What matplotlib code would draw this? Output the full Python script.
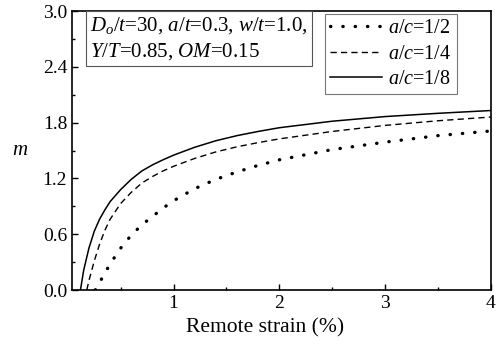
import numpy as np
import matplotlib
matplotlib.use("Agg")
import matplotlib.pyplot as plt
from matplotlib.ticker import MultipleLocator

plt.rcParams['font.family'] = 'Liberation Serif'
plt.rcParams['mathtext.fontset'] = 'custom'
plt.rcParams['mathtext.rm'] = 'Liberation Serif'
plt.rcParams['mathtext.it'] = 'Liberation Serif:italic'

## DATA
# a/c = 1/8 (solid)
strain_18 = [0.12, 0.15, 0.2, 0.25, 0.3, 0.35, 0.4, 0.5, 0.6, 0.7, 0.8, 0.9, 1.0,
             1.2, 1.4, 1.6, 1.8, 2.0, 2.5, 3.0, 3.5, 4.0]
m_18 = [0.0, 0.21, 0.45, 0.63, 0.76, 0.86, 0.95, 1.08, 1.19, 1.28, 1.345, 1.40, 1.45,
        1.535, 1.605, 1.66, 1.705, 1.745, 1.815, 1.865, 1.90, 1.93]

# a/c = 1/4 (dashed)
strain_14 = [0.18, 0.2, 0.25, 0.3, 0.35, 0.4, 0.5, 0.6, 0.7, 0.8, 0.9, 1.0,
             1.2, 1.4, 1.6, 1.8, 2.0, 2.5, 3.0, 3.5, 4.0]
m_14 = [0.0, 0.10, 0.31, 0.49, 0.64, 0.76, 0.93, 1.05, 1.15, 1.22, 1.28, 1.33,
        1.415, 1.485, 1.54, 1.585, 1.625, 1.705, 1.77, 1.82, 1.86]

# a/c = 1/2 (dotted)
strain_12 = [0.26, 0.3, 0.35, 0.4, 0.5, 0.6, 0.7, 0.8, 0.9, 1.0,
             1.2, 1.4, 1.6, 1.8, 2.0, 2.5, 3.0, 3.5, 4.0]
m_12 = [0.0, 0.08, 0.18, 0.28, 0.45, 0.59, 0.70, 0.79, 0.88, 0.96,
        1.09, 1.19, 1.27, 1.34, 1.40, 1.51, 1.59, 1.66, 1.71]

labels = ['$a/c$=1/2', '$a/c$=1/4', '$a/c$=1/8']
info_text = '$D_o/t$=30, $a/t$=0.3, $w/t$=1.0,\n$Y/T$=0.85, $OM$=0.15'

#%%
fig = plt.figure(figsize=(5.01, 3.45), dpi=100)
ax = fig.add_axes([0.1437, 0.1594, 0.8363, 0.8087])

ax.plot(strain_12, m_12, color='k', lw=2.4, linestyle=(0, (0.1, 3.6)),
        dash_capstyle='round', label=labels[0])
ax.plot(strain_14, m_14, color='k', lw=1.0, linestyle=(0, (4.5, 3)),
        label=labels[1])
ax.plot(strain_18, m_18, color='k', lw=1.1, linestyle='-', label=labels[2])

ax.set_xlim(0.04, 4)
ax.set_ylim(0, 3.0)
ax.xaxis.set_major_locator(MultipleLocator(1))
ax.xaxis.set_minor_locator(MultipleLocator(0.5))
ax.yaxis.set_major_locator(MultipleLocator(0.6))
ax.yaxis.set_minor_locator(MultipleLocator(0.3))
ax.tick_params(which='both', direction='in', top=False, right=False,
               labelsize=14, width=1)
ax.tick_params(which='major', length=4)
ax.tick_params(which='minor', length=2.5)
for s in ax.spines.values():
    s.set_linewidth(1.2)

ax.set_xlabel('Remote strain (%)', fontsize=15.5)
ax.xaxis.set_label_coords(0.46, -0.1)
ax.xaxis.label.set_va('top')
ax.set_ylabel('$m$', fontsize=15, rotation=0, labelpad=16, va='center')

ax.text(0.043, 0.985, info_text, transform=ax.transAxes, fontsize=15,
        va='top', ha='left', linespacing=1.3,
        bbox=dict(boxstyle='square,pad=0.2', fc='white', ec='#555555', lw=0.8))

leg = ax.legend(loc='upper left', bbox_to_anchor=(0.604, 0.988), fontsize=14.5,
                frameon=True, fancybox=False, handlelength=2.6,
                handletextpad=0.3, borderpad=0.25, labelspacing=0.3,
                borderaxespad=0)
leg.get_frame().set_edgecolor('#555555')
leg.get_frame().set_linewidth(0.8)

fig.savefig('out.png', dpi=100)
